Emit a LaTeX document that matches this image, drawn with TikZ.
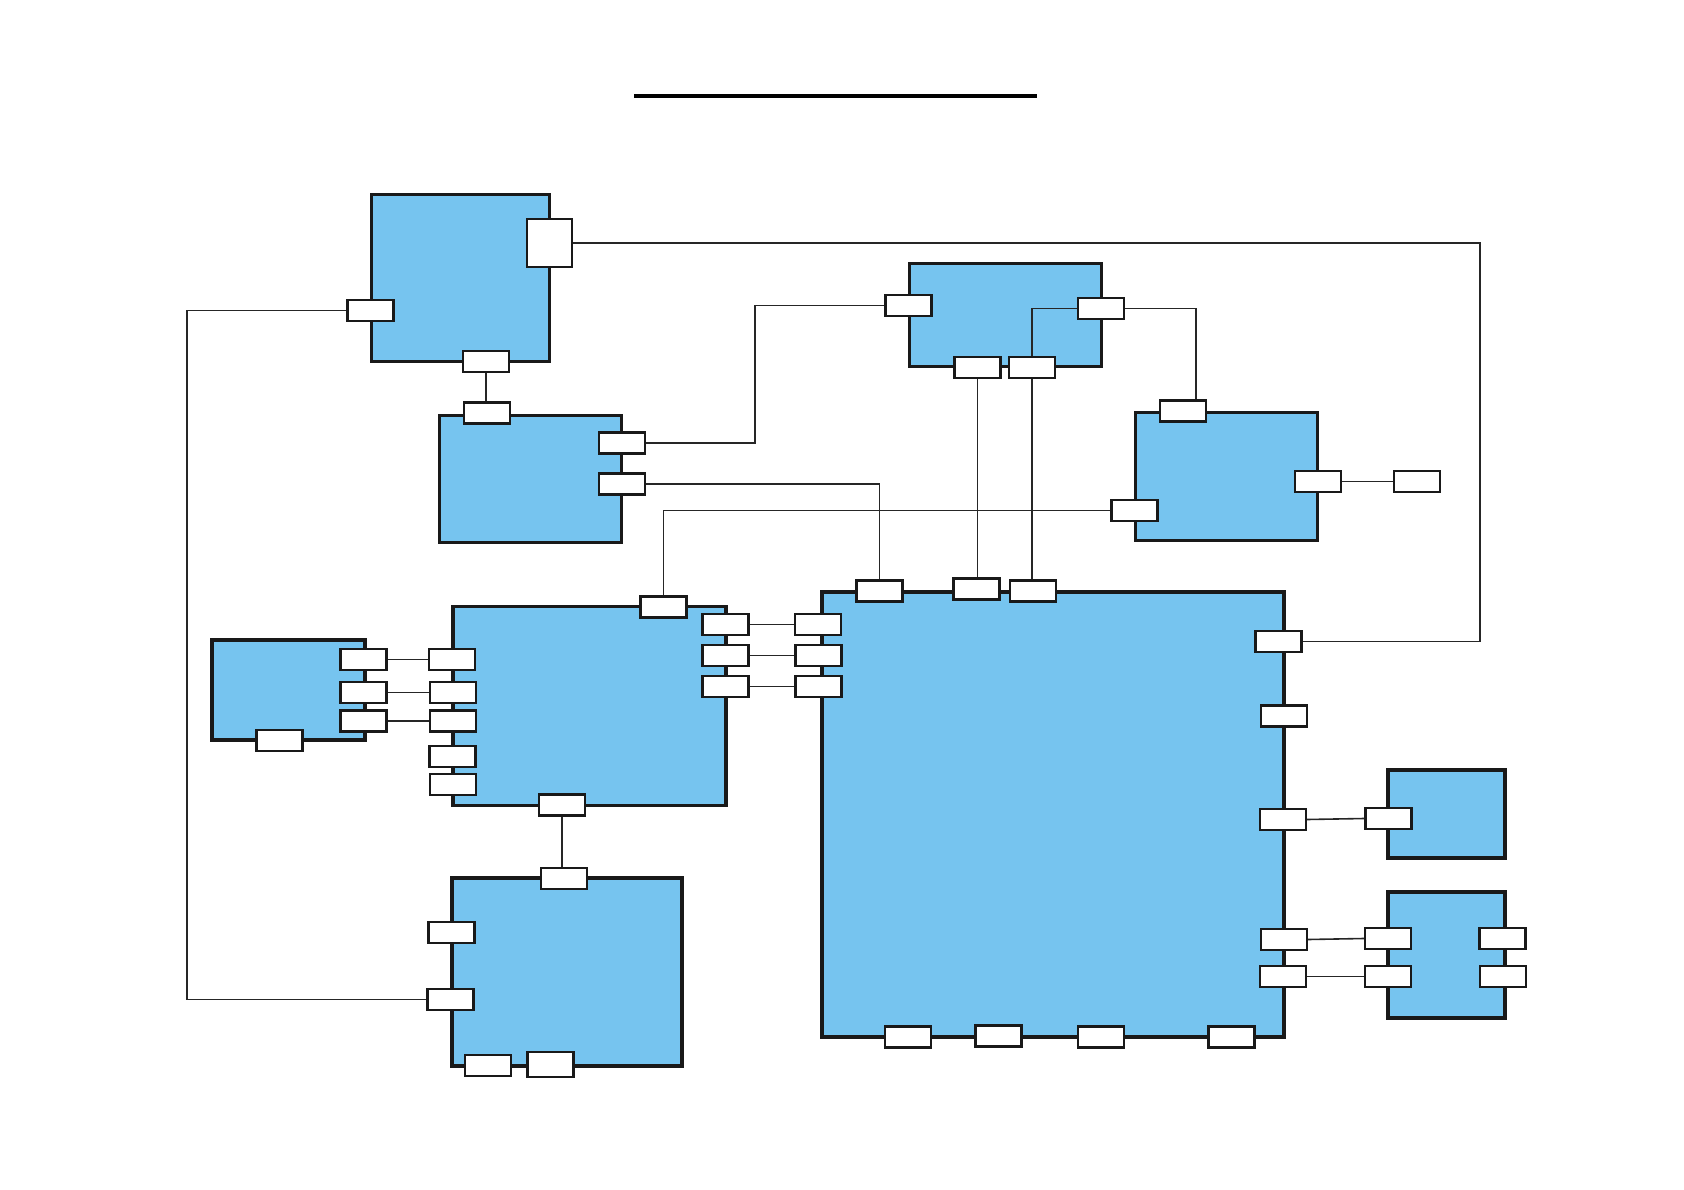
\documentclass[tikz,border=0pt]{standalone}
\begin{document}
\begin{tikzpicture}[x=1pt,y=-1pt,
  blk/.style={draw=black!90,line width=3.4pt,fill=blockblue,rectangle,inner sep=0pt},
  prt/.style={draw=black!90,line width=2.2pt,fill=white,rectangle,inner sep=0pt,minimum width=46pt,minimum height=21pt},
  wire/.style={draw=black!85,line width=1.6pt}]
\definecolor{blockblue}{RGB}{118,196,239}
\useasboundingbox (0,0) rectangle (1684,1190);
% title rule
\coordinate (T1) at (634,96);
\coordinate (T2) at (1037,96);
\draw[line width=4pt] (T1) -- (T2);
% blocks
\node[blk,minimum width=178pt,minimum height=167pt] (A) at (460.5,278) {};
\node[blk,minimum width=182pt,minimum height=127pt] (B) at (530.5,479) {};
\node[blk,minimum width=192pt,minimum height=103pt] (C) at (1005.5,315) {};
\node[blk,minimum width=182pt,minimum height=128pt] (D) at (1226.5,476.5) {};
\node[blk,minimum width=462pt,minimum height=445pt] (E) at (1053,814.5) {};
\node[blk,minimum width=273pt,minimum height=199pt] (F) at (589.5,706) {};
\node[blk,minimum width=153pt,minimum height=100pt] (G) at (288.5,690) {};
\node[blk,minimum width=230pt,minimum height=188pt] (H) at (567,972) {};
\node[blk,minimum width=117pt,minimum height=88pt] (I) at (1446.5,814) {};
\node[blk,minimum width=117pt,minimum height=126pt] (J) at (1446.5,955) {};
% free bend points
\coordinate (L) at (187,650);
\coordinate (R) at (1480,400);
\coordinate (Q) at (755,400);
% ports
\node[prt,minimum width=45pt,minimum height=48pt] (A1) at (549.5,243) {};
\node[prt] (A2) at (370.5,310.5) {};
\node[prt] (A3) at (486,361.5) {};
\node[prt] (B1) at (487,413) {};
\node[prt] (B2) at (622,443) {};
\node[prt] (B3) at (622,484) {};
\node[prt] (C1) at (908.5,305.5) {};
\node[prt] (C2) at (1101,308.5) {};
\node[prt] (C3) at (977.5,367.5) {};
\node[prt] (C4) at (1032,367.5) {};
\node[prt] (D1) at (1183,411) {};
\node[prt] (D2) at (1318,481.5) {};
\node[prt] (D3) at (1134.5,510.5) {};
\node[prt] (D4) at (1417,481.5) {};
\node[prt] (E1) at (879.5,591) {};
\node[prt] (E2) at (976.5,589) {};
\node[prt] (E3) at (1033,591) {};
\node[prt] (E4) at (1278.5,641.5) {};
\node[prt] (E5) at (1284,716) {};
\node[prt] (E6) at (1283,819.5) {};
\node[prt] (E7) at (1284,939.5) {};
\node[prt] (E8) at (1283,976.5) {};
\node[prt] (E9) at (908,1037) {};
\node[prt] (E10) at (998.5,1036) {};
\node[prt] (E11) at (1101,1037) {};
\node[prt] (E12) at (1231.5,1037) {};
\node[prt] (E13) at (818,624.5) {};
\node[prt] (E14) at (818.5,655.5) {};
\node[prt] (E15) at (818.5,686.5) {};
\node[prt] (F0) at (663.5,607) {};
\node[prt] (F1) at (725.5,624.5) {};
\node[prt] (F2) at (725.5,655.5) {};
\node[prt] (F3) at (725.5,686.5) {};
\node[prt] (F4) at (452,659.5) {};
\node[prt] (F5) at (453,692.5) {};
\node[prt] (F6) at (453,721) {};
\node[prt] (F7) at (452.5,756.5) {};
\node[prt] (F8) at (452.75,784.5) {};
\node[prt] (F9) at (562,805) {};
\node[prt] (G1) at (363.5,659.5) {};
\node[prt] (G2) at (363.5,692.5) {};
\node[prt] (G3) at (363.5,721) {};
\node[prt] (G4) at (279.5,740.5) {};
\node[prt] (H0) at (564,878.5) {};
\node[prt] (H1) at (451.5,932.5) {};
\node[prt] (H2) at (450.5,999.5) {};
\node[prt] (H3) at (488,1065.5) {};
\node[prt,minimum height=25pt] (H4) at (550.5,1064.5) {};
\node[prt] (I1) at (1388.5,818.5) {};
\node[prt] (J1) at (1388,938.5) {};
\node[prt] (J2) at (1388,976.5) {};
\node[prt] (J3) at (1502.5,938.5) {};
\node[prt] (J4) at (1503,976.5) {};
% wires
\path[wire] (A3.south) -- (A3.south |- B1.north);
\path[wire] (A2.west) -| (L) |- (H2.west);
\path[wire] (A1.east) -| (R) |- (E4.east);
\path[wire] (B2.east) -| (Q) |- (C1.west);
\path[wire] (B3.east) -| (E1.north);
\path[wire] (F0.north) |- (D3.west);
\path[wire] (C2.east) -| ([xshift=13pt]D1.north);
\path[wire] (C3.south) -- (C3.south |- E2.north);
\path[wire] (C2.west) -| (C4.north);
\path[wire] (C4.south) -- (C4.south |- E3.north);
\path[wire] (D2.east) -- (D4.west);
\path[wire] (G1.east) -- (F4.west);
\path[wire] (G2.east) -- (F5.west);
\path[wire] (G3.east) -- (F6.west);
\path[wire] (F1.east) -- (E13.west);
\path[wire] (F2.east) -- (E14.west);
\path[wire] (F3.east) -- (E15.west);
\path[wire] (F9.south) -- (F9.south |- H0.north);
\path[wire] (E6.east) -- (I1.west);
\path[wire] (E7.east) -- (J1.west);
\path[wire] (E8.east) -- (J2.west);
\end{tikzpicture}
\end{document}
